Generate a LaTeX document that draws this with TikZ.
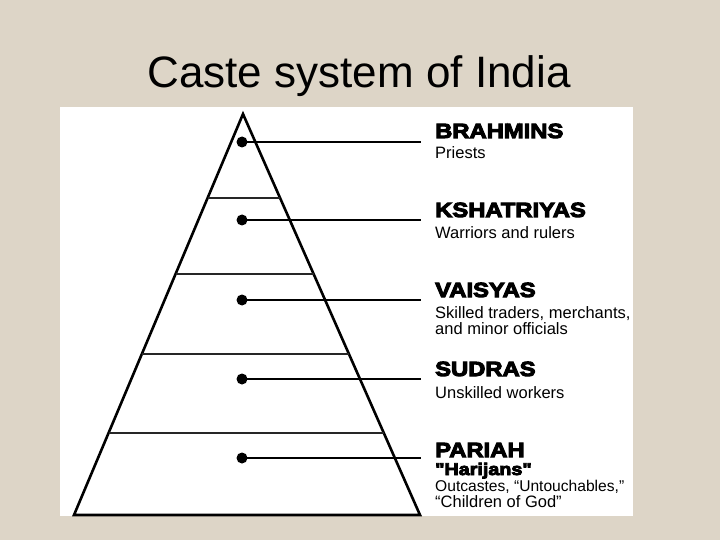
\documentclass[tikz,border=0pt]{standalone}
\usepackage{fontspec}
\setmainfont{Liberation Sans}
\newfontfamily\heavyfont[BoldFeatures={FakeBold=5,FakeStretch=1.16}]{Liberation Sans}
\usetikzlibrary{calc}
\definecolor{bgbeige}{RGB}{221,213,199}
\tikzset{
  outline/.style={draw=black, line width=2.6pt, line join=miter},
  divider/.style={draw=black!85, line width=1.8pt},
  dot/.style={circle, fill=black, inner sep=0pt, minimum size=11pt},
  link/.style={draw=black, line width=2.2pt},
  head/.style={anchor=base west, inner sep=0pt, font=\heavyfont\bfseries\fontsize{20.5}{22}\selectfont},
  subhead/.style={anchor=base west, inner sep=0pt, font=\heavyfont\bfseries\fontsize{17}{18}\selectfont},
  body/.style={anchor=base west, inner sep=0pt, font=\fontsize{16.5}{17}\selectfont},
}
\begin{document}
\begin{tikzpicture}[x=1pt,y=-1pt]
\useasboundingbox (0,0) rectangle (720,540);
\fill[bgbeige] (0,0) rectangle (720,540);
\node[anchor=base, inner sep=0pt, font=\fontsize{44}{50}\selectfont] (title) at (359,88) {Caste system of India};
\fill[white] (60,107) rectangle (633,516);
% pyramid
\coordinate (A) at (243,114);
\coordinate (L) at (74,515);
\coordinate (R) at (420,515);
\draw[outline] (A) -- (L) -- (R) -- cycle;
\foreach \t in {0.2095,0.399,0.5985,0.7955}{
  \draw[divider] ($(A)!\t!(L)$) -- ($(A)!\t!(R)$);
}
% dots and connectors
\node[dot] (d1) at (242,142) {};
\node[dot] (d2) at (242,220) {};
\node[dot] (d3) at (242,300) {};
\node[dot] (d4) at (242,379) {};
\node[dot] (d5) at (242,458) {};
\coordinate (e1) at (421,142);
\coordinate (e2) at (421,220);
\coordinate (e3) at (421,300);
\coordinate (e4) at (421,379);
\coordinate (e5) at (421,458);
\foreach \i in {1,...,5}{ \draw[link] (d\i.center) -- (e\i); }
% labels
\node[head] (h1) at (435,138) {BRAHMINS};
\node[body] (b1) at (435,159) {Priests};
\node[head] (h2) at (435,217) {KSHATRIYAS};
\node[body] (b2) at (435,238) {Warriors and rulers};
\node[head] (h3) at (435,297) {VAISYAS};
\node[body] (b3a) at (435,318) {Skilled traders, merchants,};
\node[body] (b3b) at (435,334) {and minor officials};
\node[head] (h4) at (435,376) {SUDRAS};
\node[body] (b4) at (435,398) {Unskilled workers};
\node[head] (h5) at (435,457) {PARIAH};
\node[subhead] (h5b) at (435,475) {"Harijans"};
\node[body, font=\fontsize{15.6}{17}\selectfont] (b5a) at (435,491) {Outcastes, “Untouchables,”};
\node[body] (b5b) at (435,507) {“Children of God”};
\end{tikzpicture}
\end{document}
